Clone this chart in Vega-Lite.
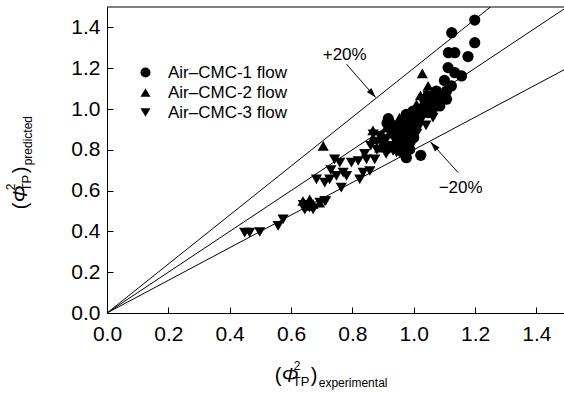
{
  "$schema": "https://vega.github.io/schema/vega-lite/v6.json",
  "autosize": {"type": "none"},
  "width": 457,
  "height": 306,
  "padding": {"left": 107, "top": 7, "right": 0, "bottom": 80},
  "background": "white",
  "config": {
    "view": {"stroke": null},
    "font": "Liberation Sans",
    "axis": {
      "grid": false,
      "domainColor": "black",
      "tickColor": "black",
      "labelColor": "black",
      "labelFont": "Liberation Sans",
      "labelFontSize": 21,
      "tickSize": -6,
      "labelOverlap": false,
      "labelFlush": false,
      "title": null
    },
    "axisX": {"labelPadding": 16},
    "axisY": {"labelPadding": 13}
  },
  "datasets": {
    "pts": [
      {"s": "Air–CMC-1 flow", "x": 1.199, "y": 1.436},
      {"s": "Air–CMC-1 flow", "x": 1.124, "y": 1.374},
      {"s": "Air–CMC-1 flow", "x": 1.199, "y": 1.325},
      {"s": "Air–CMC-1 flow", "x": 1.113, "y": 1.276},
      {"s": "Air–CMC-1 flow", "x": 1.134, "y": 1.276},
      {"s": "Air–CMC-1 flow", "x": 1.177, "y": 1.257},
      {"s": "Air–CMC-1 flow", "x": 1.112, "y": 1.203},
      {"s": "Air–CMC-1 flow", "x": 1.134, "y": 1.178},
      {"s": "Air–CMC-1 flow", "x": 1.156, "y": 1.162},
      {"s": "Air–CMC-1 flow", "x": 1.123, "y": 1.113},
      {"s": "Air–CMC-1 flow", "x": 1.107, "y": 1.088},
      {"s": "Air–CMC-1 flow", "x": 1.090, "y": 1.064},
      {"s": "Air–CMC-1 flow", "x": 1.107, "y": 1.048},
      {"s": "Air–CMC-1 flow", "x": 1.085, "y": 1.015},
      {"s": "Air–CMC-1 flow", "x": 1.079, "y": 1.031},
      {"s": "Air–CMC-1 flow", "x": 1.074, "y": 1.088},
      {"s": "Air–CMC-1 flow", "x": 1.063, "y": 1.064},
      {"s": "Air–CMC-1 flow", "x": 1.036, "y": 1.047},
      {"s": "Air–CMC-1 flow", "x": 1.063, "y": 1.007},
      {"s": "Air–CMC-1 flow", "x": 1.047, "y": 0.982},
      {"s": "Air–CMC-1 flow", "x": 1.020, "y": 0.998},
      {"s": "Air–CMC-1 flow", "x": 0.998, "y": 0.990},
      {"s": "Air–CMC-1 flow", "x": 0.976, "y": 0.974},
      {"s": "Air–CMC-1 flow", "x": 0.917, "y": 0.953},
      {"s": "Air–CMC-1 flow", "x": 0.913, "y": 0.930},
      {"s": "Air–CMC-1 flow", "x": 0.954, "y": 0.908},
      {"s": "Air–CMC-1 flow", "x": 0.938, "y": 0.884},
      {"s": "Air–CMC-1 flow", "x": 0.960, "y": 0.868},
      {"s": "Air–CMC-1 flow", "x": 0.982, "y": 0.884},
      {"s": "Air–CMC-1 flow", "x": 0.998, "y": 0.917},
      {"s": "Air–CMC-1 flow", "x": 1.014, "y": 0.949},
      {"s": "Air–CMC-1 flow", "x": 0.965, "y": 0.786},
      {"s": "Air–CMC-1 flow", "x": 0.976, "y": 0.761},
      {"s": "Air–CMC-1 flow", "x": 1.023, "y": 0.773},
      {"s": "Air–CMC-1 flow", "x": 0.949, "y": 0.819},
      {"s": "Air–CMC-1 flow", "x": 0.987, "y": 0.802},
      {"s": "Air–CMC-1 flow", "x": 1.050, "y": 1.030},
      {"s": "Air–CMC-1 flow", "x": 1.100, "y": 1.140},
      {"s": "Air–CMC-1 flow", "x": 0.930, "y": 0.900},
      {"s": "Air–CMC-1 flow", "x": 0.960, "y": 0.930},
      {"s": "Air–CMC-1 flow", "x": 0.990, "y": 0.950},
      {"s": "Air–CMC-1 flow", "x": 1.010, "y": 0.970},
      {"s": "Air–CMC-1 flow", "x": 1.030, "y": 1.000},
      {"s": "Air–CMC-1 flow", "x": 1.050, "y": 1.020},
      {"s": "Air–CMC-1 flow", "x": 0.950, "y": 0.850},
      {"s": "Air–CMC-1 flow", "x": 0.970, "y": 0.820},
      {"s": "Air–CMC-1 flow", "x": 1.000, "y": 0.860},
      {"s": "Air–CMC-2 flow", "x": 1.028, "y": 1.175},
      {"s": "Air–CMC-2 flow", "x": 1.047, "y": 1.113},
      {"s": "Air–CMC-2 flow", "x": 1.022, "y": 1.067},
      {"s": "Air–CMC-2 flow", "x": 1.041, "y": 1.080},
      {"s": "Air–CMC-2 flow", "x": 1.009, "y": 1.023},
      {"s": "Air–CMC-2 flow", "x": 1.030, "y": 1.031},
      {"s": "Air–CMC-2 flow", "x": 0.992, "y": 0.982},
      {"s": "Air–CMC-2 flow", "x": 0.954, "y": 0.958},
      {"s": "Air–CMC-2 flow", "x": 0.933, "y": 0.933},
      {"s": "Air–CMC-2 flow", "x": 0.911, "y": 0.908},
      {"s": "Air–CMC-2 flow", "x": 0.867, "y": 0.895},
      {"s": "Air–CMC-2 flow", "x": 0.865, "y": 0.851},
      {"s": "Air–CMC-2 flow", "x": 0.895, "y": 0.859},
      {"s": "Air–CMC-2 flow", "x": 0.922, "y": 0.884},
      {"s": "Air–CMC-2 flow", "x": 0.943, "y": 0.851},
      {"s": "Air–CMC-2 flow", "x": 0.965, "y": 0.884},
      {"s": "Air–CMC-2 flow", "x": 0.976, "y": 0.835},
      {"s": "Air–CMC-2 flow", "x": 0.705, "y": 0.819},
      {"s": "Air–CMC-2 flow", "x": 0.639, "y": 0.549},
      {"s": "Air–CMC-2 flow", "x": 0.655, "y": 0.525},
      {"s": "Air–CMC-2 flow", "x": 0.693, "y": 0.541},
      {"s": "Air–CMC-2 flow", "x": 0.661, "y": 0.557},
      {"s": "Air–CMC-2 flow", "x": 0.889, "y": 0.810},
      {"s": "Air–CMC-2 flow", "x": 1.058, "y": 0.998},
      {"s": "Air–CMC-2 flow", "x": 1.074, "y": 1.015},
      {"s": "Air–CMC-2 flow", "x": 1.014, "y": 0.966},
      {"s": "Air–CMC-2 flow", "x": 0.998, "y": 0.949},
      {"s": "Air–CMC-2 flow", "x": 1.047, "y": 1.047},
      {"s": "Air–CMC-2 flow", "x": 0.672, "y": 0.535},
      {"s": "Air–CMC-2 flow", "x": 0.940, "y": 0.900},
      {"s": "Air–CMC-2 flow", "x": 0.900, "y": 0.870},
      {"s": "Air–CMC-2 flow", "x": 0.930, "y": 0.880},
      {"s": "Air–CMC-2 flow", "x": 0.960, "y": 0.910},
      {"s": "Air–CMC-2 flow", "x": 0.980, "y": 0.930},
      {"s": "Air–CMC-2 flow", "x": 1.000, "y": 0.960},
      {"s": "Air–CMC-2 flow", "x": 1.030, "y": 0.990},
      {"s": "Air–CMC-2 flow", "x": 0.910, "y": 0.820},
      {"s": "Air–CMC-2 flow", "x": 0.940, "y": 0.830},
      {"s": "Air–CMC-2 flow", "x": 0.970, "y": 0.870},
      {"s": "Air–CMC-3 flow", "x": 0.449, "y": 0.394},
      {"s": "Air–CMC-3 flow", "x": 0.465, "y": 0.394},
      {"s": "Air–CMC-3 flow", "x": 0.498, "y": 0.397},
      {"s": "Air–CMC-3 flow", "x": 0.558, "y": 0.427},
      {"s": "Air–CMC-3 flow", "x": 0.574, "y": 0.459},
      {"s": "Air–CMC-3 flow", "x": 0.645, "y": 0.507},
      {"s": "Air–CMC-3 flow", "x": 0.660, "y": 0.517},
      {"s": "Air–CMC-3 flow", "x": 0.694, "y": 0.541},
      {"s": "Air–CMC-3 flow", "x": 0.713, "y": 0.549},
      {"s": "Air–CMC-3 flow", "x": 0.672, "y": 0.508},
      {"s": "Air–CMC-3 flow", "x": 0.710, "y": 0.549},
      {"s": "Air–CMC-3 flow", "x": 0.683, "y": 0.655},
      {"s": "Air–CMC-3 flow", "x": 0.710, "y": 0.639},
      {"s": "Air–CMC-3 flow", "x": 0.726, "y": 0.655},
      {"s": "Air–CMC-3 flow", "x": 0.742, "y": 0.753},
      {"s": "Air–CMC-3 flow", "x": 0.759, "y": 0.737},
      {"s": "Air–CMC-3 flow", "x": 0.770, "y": 0.688},
      {"s": "Air–CMC-3 flow", "x": 0.781, "y": 0.672},
      {"s": "Air–CMC-3 flow", "x": 0.764, "y": 0.615},
      {"s": "Air–CMC-3 flow", "x": 0.748, "y": 0.672},
      {"s": "Air–CMC-3 flow", "x": 0.797, "y": 0.737},
      {"s": "Air–CMC-3 flow", "x": 0.819, "y": 0.745},
      {"s": "Air–CMC-3 flow", "x": 0.846, "y": 0.753},
      {"s": "Air–CMC-3 flow", "x": 0.873, "y": 0.753},
      {"s": "Air–CMC-3 flow", "x": 0.857, "y": 0.696},
      {"s": "Air–CMC-3 flow", "x": 0.835, "y": 0.688},
      {"s": "Air–CMC-3 flow", "x": 0.824, "y": 0.655},
      {"s": "Air–CMC-3 flow", "x": 0.868, "y": 0.876},
      {"s": "Air–CMC-3 flow", "x": 0.889, "y": 0.868},
      {"s": "Air–CMC-3 flow", "x": 0.911, "y": 0.851},
      {"s": "Air–CMC-3 flow", "x": 0.933, "y": 0.860},
      {"s": "Air–CMC-3 flow", "x": 0.944, "y": 0.786},
      {"s": "Air–CMC-3 flow", "x": 0.922, "y": 0.803},
      {"s": "Air–CMC-3 flow", "x": 0.900, "y": 0.819},
      {"s": "Air–CMC-3 flow", "x": 1.063, "y": 0.958},
      {"s": "Air–CMC-3 flow", "x": 1.068, "y": 0.990},
      {"s": "Air–CMC-3 flow", "x": 1.047, "y": 1.064},
      {"s": "Air–CMC-3 flow", "x": 1.019, "y": 0.917},
      {"s": "Air–CMC-3 flow", "x": 0.976, "y": 0.851},
      {"s": "Air–CMC-3 flow", "x": 0.992, "y": 0.819},
      {"s": "Air–CMC-3 flow", "x": 0.922, "y": 0.819},
      {"s": "Air–CMC-3 flow", "x": 0.905, "y": 0.851},
      {"s": "Air–CMC-3 flow", "x": 0.933, "y": 0.794},
      {"s": "Air–CMC-3 flow", "x": 0.640, "y": 0.530},
      {"s": "Air–CMC-3 flow", "x": 0.730, "y": 0.700},
      {"s": "Air–CMC-3 flow", "x": 0.880, "y": 0.840},
      {"s": "Air–CMC-3 flow", "x": 0.960, "y": 0.880},
      {"s": "Air–CMC-3 flow", "x": 1.000, "y": 0.930},
      {"s": "Air–CMC-3 flow", "x": 1.030, "y": 0.960},
      {"s": "Air–CMC-3 flow", "x": 0.880, "y": 0.800},
      {"s": "Air–CMC-3 flow", "x": 0.910, "y": 0.780},
      {"s": "Air–CMC-3 flow", "x": 0.950, "y": 0.810},
      {"s": "Air–CMC-3 flow", "x": 0.980, "y": 0.840},
      {"s": "Air–CMC-3 flow", "x": 1.010, "y": 0.880},
      {"s": "Air–CMC-3 flow", "x": 1.040, "y": 0.920},
      {"s": "Air–CMC-3 flow", "x": 0.860, "y": 0.820},
      {"s": "Air–CMC-3 flow", "x": 0.840, "y": 0.780},
      {"s": "Air–CMC-3 flow", "x": 0.960, "y": 0.840}
    ],
    "lines": [
      {"line": "+20%", "x": 0, "y": 0},
      {"line": "+20%", "x": 1.25, "y": 1.5},
      {"line": "0%", "x": 0, "y": 0},
      {"line": "0%", "x": 1.5, "y": 1.5},
      {"line": "-20%", "x": 0, "y": 0},
      {"line": "-20%", "x": 1.5, "y": 1.2}
    ],
    "arrows": [
      {"x": 0.781, "y": 1.219, "x2": 0.876, "y2": 1.056},
      {"x": 1.145, "y": 0.688, "x2": 1.055, "y2": 0.838}
    ],
    "labels": [
      {"t": "+20%", "x": 0.775, "y": 1.263},
      {"t": "−20%", "x": 1.153, "y": 0.611}
    ]
  },
  "layer": [
    {
      "data": {"name": "lines"},
      "mark": {"type": "line", "color": "black", "strokeWidth": 1, "clip": true},
      "encoding": {
        "x": {"field": "x", "type": "quantitative", "scale": {"domain": [0, 1.49], "nice": false, "zero": false},
          "axis": {"values": [0, 0.1, 0.2, 0.3, 0.4, 0.5, 0.6, 0.7, 0.8, 0.9, 1.0, 1.1, 1.2, 1.3, 1.4],
            "labelExpr": "round(datum.value*10) % 2 == 0 ? format(datum.value, '.1f') : ''"}},
        "y": {"field": "y", "type": "quantitative", "scale": {"domain": [0, 1.5], "nice": false, "zero": false},
          "axis": {"values": [0, 0.1, 0.2, 0.3, 0.4, 0.5, 0.6, 0.7, 0.8, 0.9, 1.0, 1.1, 1.2, 1.3, 1.4],
            "labelExpr": "round(datum.value*10) % 2 == 0 ? format(datum.value, '.1f') : ''"}},
        "detail": {"field": "line"}
      }
    },
    {
      "data": {"values": [{"top": 1.5}]},
      "mark": {"type": "rule", "color": "black", "strokeWidth": 1},
      "encoding": {"y": {"field": "top", "type": "quantitative"}}
    },
    {
      "data": {"name": "pts"},
      "mark": {"type": "point", "filled": true, "opacity": 1, "size": 125, "color": "black", "strokeWidth": 0},
      "encoding": {
        "x": {"field": "x", "type": "quantitative"},
        "y": {"field": "y", "type": "quantitative"},
        "shape": {"field": "s", "type": "nominal",
          "scale": {"domain": ["Air–CMC-1 flow", "Air–CMC-2 flow", "Air–CMC-3 flow"], "range": ["circle", "triangle-up", "triangle-down"]},
          "legend": {"orient": "none", "legendX": 30, "legendY": 57, "title": null, "padding": 0,
            "labelFontSize": 17, "labelFont": "Liberation Sans", "labelColor": "black", "labelOffset": 14,
            "rowPadding": 2, "symbolSize": 100, "symbolFillColor": "black", "symbolStrokeWidth": 0}}
      }
    },
    {
      "data": {"name": "arrows"},
      "mark": {"type": "rule", "color": "black", "strokeWidth": 1},
      "encoding": {
        "x": {"field": "x", "type": "quantitative"},
        "y": {"field": "y", "type": "quantitative"},
        "x2": {"field": "x2"},
        "y2": {"field": "y2"}
      }
    },
    {
      "data": {"values": [{"x": 0.876, "y": 1.056}]},
      "mark": {"type": "point", "shape": "M0,0L-0.3,1L0.3,1Z", "filled": true, "opacity": 1, "color": "black", "strokeWidth": 0, "size": 400, "angle": 139},
      "encoding": {"x": {"field": "x", "type": "quantitative"}, "y": {"field": "y", "type": "quantitative"}}
    },
    {
      "data": {"values": [{"x": 1.055, "y": 0.838}]},
      "mark": {"type": "point", "shape": "M0,0L-0.3,1L0.3,1Z", "filled": true, "opacity": 1, "color": "black", "strokeWidth": 0, "size": 400, "angle": 318},
      "encoding": {"x": {"field": "x", "type": "quantitative"}, "y": {"field": "y", "type": "quantitative"}}
    },
    {
      "data": {"name": "labels"},
      "mark": {"type": "text", "fontSize": 17, "align": "center", "baseline": "middle", "color": "black"},
      "encoding": {
        "x": {"field": "x", "type": "quantitative"},
        "y": {"field": "y", "type": "quantitative"},
        "text": {"field": "t"}
      }
    },
    {"data": {"values": [{}]}, "mark": {"type": "text", "text": "(", "fontSize": 20, "align": "left", "baseline": "alphabetic", "color": "black"},
      "encoding": {"x": {"datum": 0.547}, "y": {"datum": -0.34}}},
    {"data": {"values": [{}]}, "mark": {"type": "text", "text": "Φ", "fontSize": 20, "fontStyle": "italic", "align": "left", "baseline": "alphabetic", "dx": 7, "color": "black"},
      "encoding": {"x": {"datum": 0.547}, "y": {"datum": -0.34}}},
    {"data": {"values": [{}]}, "mark": {"type": "text", "text": "2", "fontSize": 12, "align": "left", "baseline": "alphabetic", "dx": 19, "dy": -12, "color": "black"},
      "encoding": {"x": {"datum": 0.547}, "y": {"datum": -0.34}}},
    {"data": {"values": [{}]}, "mark": {"type": "text", "text": "TP", "fontSize": 13, "align": "left", "baseline": "alphabetic", "dx": 18, "dy": 4, "color": "black"},
      "encoding": {"x": {"datum": 0.547}, "y": {"datum": -0.34}}},
    {"data": {"values": [{}]}, "mark": {"type": "text", "text": ")", "fontSize": 20, "align": "left", "baseline": "alphabetic", "dx": 36, "color": "black"},
      "encoding": {"x": {"datum": 0.547}, "y": {"datum": -0.34}}},
    {"data": {"values": [{}]}, "mark": {"type": "text", "text": "experimental", "fontSize": 12, "align": "left", "baseline": "alphabetic", "dx": 44, "dy": 5, "color": "black"},
      "encoding": {"x": {"datum": 0.547}, "y": {"datum": -0.34}}},
    {"data": {"values": [{}]}, "mark": {"type": "text", "text": "(", "fontSize": 20, "align": "left", "baseline": "alphabetic", "angle": 270, "color": "black"},
      "encoding": {"x": {"datum": -0.262}, "y": {"datum": 0.508}}},
    {"data": {"values": [{}]}, "mark": {"type": "text", "text": "Φ", "fontSize": 20, "fontStyle": "italic", "align": "left", "baseline": "alphabetic", "angle": 270, "dx": 7, "color": "black"},
      "encoding": {"x": {"datum": -0.262}, "y": {"datum": 0.508}}},
    {"data": {"values": [{}]}, "mark": {"type": "text", "text": "2", "fontSize": 12, "align": "left", "baseline": "alphabetic", "angle": 270, "dx": 19, "dy": -12, "color": "black"},
      "encoding": {"x": {"datum": -0.262}, "y": {"datum": 0.508}}},
    {"data": {"values": [{}]}, "mark": {"type": "text", "text": "TP", "fontSize": 13, "align": "left", "baseline": "alphabetic", "angle": 270, "dx": 18, "dy": 4, "color": "black"},
      "encoding": {"x": {"datum": -0.262}, "y": {"datum": 0.508}}},
    {"data": {"values": [{}]}, "mark": {"type": "text", "text": ")", "fontSize": 20, "align": "left", "baseline": "alphabetic", "angle": 270, "dx": 36, "color": "black"},
      "encoding": {"x": {"datum": -0.262}, "y": {"datum": 0.508}}},
    {"data": {"values": [{}]}, "mark": {"type": "text", "text": "predicted", "fontSize": 12, "align": "left", "baseline": "alphabetic", "angle": 270, "dx": 44, "dy": 5, "color": "black"},
      "encoding": {"x": {"datum": -0.262}, "y": {"datum": 0.508}}}
  ]
}
